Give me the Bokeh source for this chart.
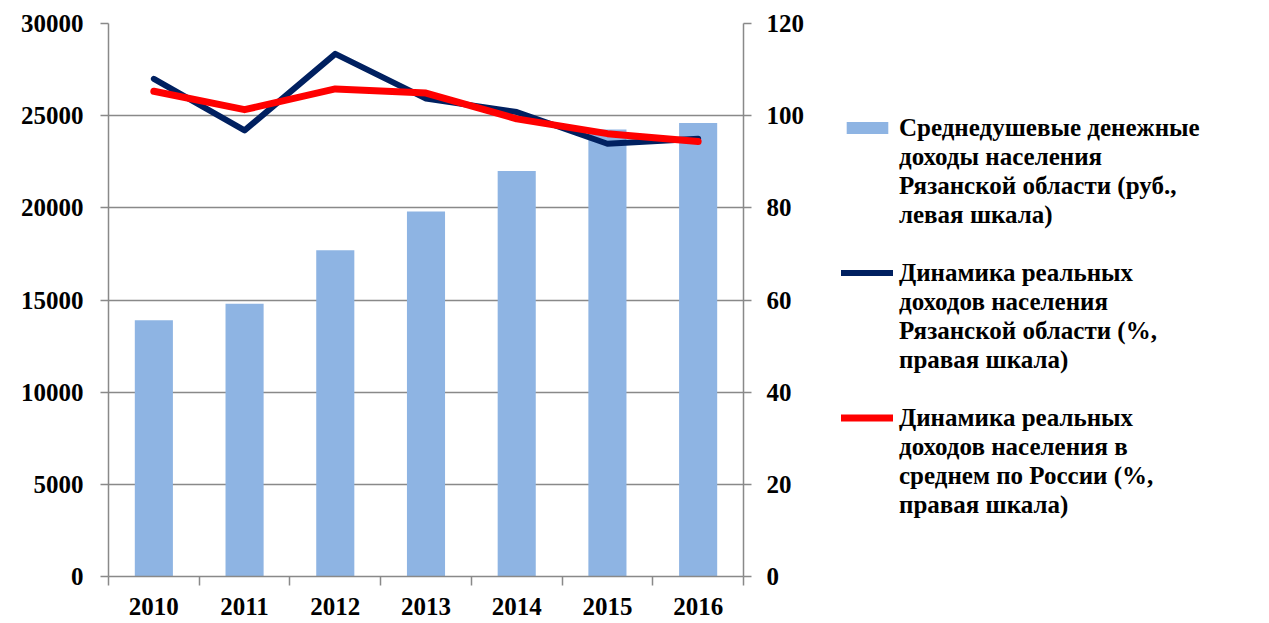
from bokeh.plotting import figure
from bokeh.layouts import row
from bokeh.models import (Range1d, LinearAxis, SingleIntervalTicker, FixedTicker,
                          Legend, LegendItem, ColumnDataSource)
from bokeh.embed import file_html
from bokeh.resources import INLINE

# ---- data ----
years = [2010, 2011, 2012, 2013, 2014, 2015, 2016]
income_rub = [13900, 14800, 17700, 19800, 22000, 24250, 24600]
real_ryazan = [108.0, 96.8, 113.4, 103.7, 100.8, 93.9, 95.0]
real_russia = [105.3, 101.3, 105.8, 104.9, 99.3, 96.1, 94.4]
year_labels = ["2010", "2011", "2012", "2013", "2014", "2015", "2016"]
legend_lines = [
    ["Среднедушевые денежные", "доходы населения", "Рязанской области (руб.,", "левая шкала)"],
    ["Динамика реальных", "доходов населения", "Рязанской области (%,", "правая шкала)"],
    ["Динамика реальных", "доходов населения в", "среднем по России (%,", "правая шкала)"],
]

BAR_COLOR = "#8EB4E3"
NAVY = "#002060"
RED = "#FF0000"
GRAY = "#898989"
FONT = "Liberation Serif"
H = 622

src = ColumnDataSource(dict(year=years, income=income_rub, ryaz=real_ryazan, rus=real_russia))

p = figure(width=815, height=H, output_backend="svg", toolbar_location=None,
           x_range=Range1d(years[0] - 0.5, years[-1] + 0.5), y_range=Range1d(0, 30000),
           min_border_left=108, min_border_top=23, min_border_bottom=H - 576, min_border_right=72)
p.extra_y_ranges = {"right": Range1d(0, 120)}
p.outline_line_color = None

p.vbar(x="year", top="income", width=0.42, source=src, fill_color=BAR_COLOR, line_color=None)
p.line(x="year", y="ryaz", source=src, y_range_name="right", line_color=NAVY,
       line_width=6, line_cap="round", line_join="round")
p.line(x="year", y="rus", source=src, y_range_name="right", line_color=RED,
       line_width=7, line_cap="round", line_join="round")


def style_axis(ax, standoff):
    ax.axis_line_color = GRAY
    ax.axis_line_width = 1.5
    ax.major_label_standoff = standoff
    ax.major_label_text_font = FONT
    ax.major_label_text_font_style = "bold"
    ax.major_label_text_font_size = "25px"
    ax.major_label_text_color = "black"


# x axis: labels at category centres, tick marks at category boundaries
xa = p.xaxis[0]
xa.ticker = FixedTicker(ticks=years, minor_ticks=[y - 0.5 for y in years] + [years[-1] + 0.5])
xa.major_label_overrides = {y: s for y, s in zip(years, year_labels)}
xa.major_tick_line_color = None
xa.minor_tick_in = 0
xa.minor_tick_out = 9
xa.minor_tick_line_color = GRAY
xa.minor_tick_line_width = 1.5
style_axis(xa, 12)

# left axis
ya = p.yaxis[0]
ya.ticker = SingleIntervalTicker(interval=5000, num_minor_ticks=0)
ya.major_tick_line_color = GRAY
ya.major_tick_line_width = 1.5
ya.major_tick_in = 0
ya.major_tick_out = 8
ya.minor_tick_line_color = None
style_axis(ya, 17)

# right axis
ra = LinearAxis(y_range_name="right", ticker=SingleIntervalTicker(interval=20, num_minor_ticks=0))
ra.major_tick_line_color = GRAY
ra.major_tick_line_width = 1.5
ra.major_tick_in = 0
ra.major_tick_out = 8
ra.minor_tick_line_color = None
style_axis(ra, 15)
p.add_layout(ra, "right")

p.xgrid.grid_line_color = None
p.ygrid.grid_line_color = GRAY
p.ygrid.grid_line_width = 1.5
p.ygrid.ticker = ya.ticker

# ---- legend panel (proxies drawn outside its visible range) ----
q = figure(width=445, height=H, output_backend="svg", toolbar_location=None,
           x_axis_type=None, y_axis_type=None, min_border=0,
           x_range=Range1d(0, 1), y_range=Range1d(0, 1))
q.outline_line_color = None
q.grid.visible = False

proxies = [
    q.vbar(x="year", top="income", width=0.42, source=src, fill_color=BAR_COLOR, line_color=None),
    q.line(x="year", y="ryaz", source=src, line_color=NAVY, line_width=6, line_cap="round"),
    q.line(x="year", y="rus", source=src, line_color=RED, line_width=7, line_cap="round"),
]
blank = q.line(x="year", y="rus", source=src, line_alpha=0)

items = []
for i, (lines, r) in enumerate(zip(legend_lines, proxies)):
    items.append(LegendItem(label=lines[0], renderers=[r]))
    for ln in lines[1:]:
        items.append(LegendItem(label=ln, renderers=[blank]))
    if i < len(legend_lines) - 1:
        items.append(LegendItem(label=" ", renderers=[blank]))

legend = Legend(items=items, location=(26, 57), orientation="vertical",
                glyph_width=52, glyph_height=15, label_standoff=6, spacing=0,
                padding=0, margin=0, border_line_color=None, background_fill_alpha=0,
                label_text_font=FONT, label_text_font_style="bold", label_text_font_size="25px",
                label_text_line_height=1.0, label_height=29, label_text_color="black")
q.add_layout(legend, "center")

layout = row(p, q, spacing=0)
open("out.html", "w").write(file_html(layout, INLINE))
